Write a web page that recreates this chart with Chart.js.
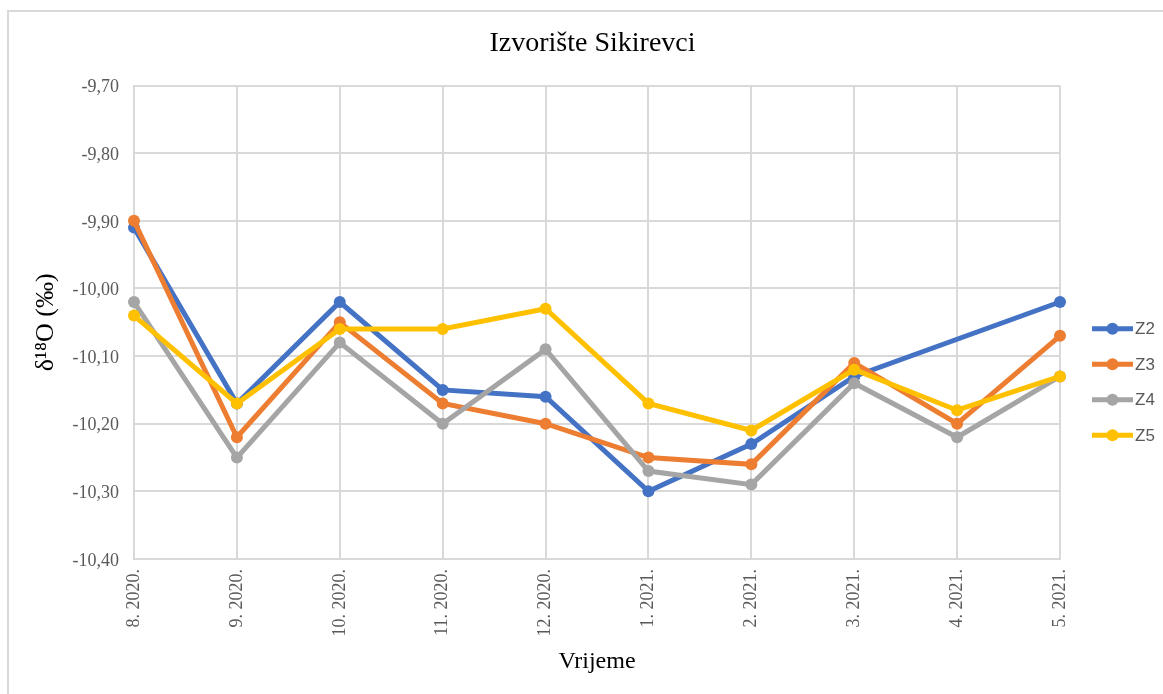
<!DOCTYPE html>
<html>
<head>
<meta charset="utf-8">
<script src="https://cdn.jsdelivr.net/npm/chart.js@4.4.1/dist/chart.umd.min.js"></script>
<style>
  html, body { margin: 0; padding: 0; background: #fff; }
  #wrap { position: relative; width: 1163px; height: 694px; overflow: hidden; }
  #frame { position: absolute; left: 7px; top: 10px; right: -10px; bottom: -10px;
           border-top: 2px solid #d9d9d9; border-left: 2px solid #d9d9d9; pointer-events: none; }
  canvas { position: absolute; left: 0; top: 0; }
</style>
</head>
<body>
<div id="wrap">
  <canvas id="c" width="1163" height="694"></canvas>
  <div id="frame"></div>
</div>
<script>
const titleText = 'Izvorište Sikirevci';
const xTitle = 'Vrijeme';
const yTitle = 'δ¹⁸O (‰)';
const categories = ['8. 2020.', '9. 2020.', '10. 2020.', '11. 2020.', '12. 2020.', '1. 2021.', '2. 2021.', '3. 2021.', '4. 2021.', '5. 2021.'];
const seriesNames = ['Z2', 'Z3', 'Z4', 'Z5'];
const z2 = [-9.91, -10.17, -10.02, -10.15, -10.16, -10.30, -10.23, -10.13, null, -10.02];
const z3 = [-9.90, -10.22, -10.05, -10.17, -10.20, -10.25, -10.26, -10.11, -10.20, -10.07];
const z4 = [-10.02, -10.25, -10.08, -10.20, -10.09, -10.27, -10.29, -10.14, -10.22, -10.13];
const z5 = [-10.04, -10.17, -10.06, -10.06, -10.03, -10.17, -10.21, -10.12, -10.18, -10.13];
const yMin = -10.4, yMax = -9.7, yStep = 0.1;
const colors = ['#4472C4', '#ED7D31', '#A5A5A5', '#FFC000'];

const serif = '"Liberation Serif", "Times New Roman", "DejaVu Serif", serif';
const gridColor = '#d9d9d9';

const allSeries = [z2, z3, z4, z5];
const datasets = allSeries.map((d, i) => ({
  label: seriesNames[i],
  data: d,
  borderColor: colors[i],
  backgroundColor: colors[i],
  borderWidth: 5,
  pointRadius: 6,
  pointBorderWidth: 0,
  pointBackgroundColor: colors[i],
  tension: 0,
  spanGaps: true,
  order: allSeries.length - i
}));

const sideLegend = {
  id: 'sideLegend',
  afterDraw(chart) {
    const ctx = chart.ctx;
    const a = chart.chartArea;
    const x0 = a.right + 32, x1 = a.right + 73, xc = (x0 + x1) / 2, xt = a.right + 75;
    const center = 382, gap = 35.5;
    const n = chart.data.datasets.length;
    ctx.save();
    chart.data.datasets.forEach((ds, i) => {
      const y = center + (i - (n - 1) / 2) * gap;
      ctx.strokeStyle = ds.borderColor;
      ctx.lineWidth = 5;
      ctx.lineCap = 'butt';
      ctx.beginPath(); ctx.moveTo(x0, y); ctx.lineTo(x1, y); ctx.stroke();
      ctx.fillStyle = ds.borderColor;
      ctx.beginPath(); ctx.arc(xc, y, 6, 0, Math.PI * 2); ctx.fill();
      ctx.fillStyle = '#595959';
      ctx.font = '17px "Liberation Sans", Arial, sans-serif';
      ctx.textAlign = 'left';
      ctx.textBaseline = 'middle';
      ctx.fillText(ds.label, xt, y + 1);
    });
    ctx.restore();
  }
};

new Chart(document.getElementById('c'), {
  type: 'line',
  data: { labels: categories, datasets },
  options: {
    responsive: false,
    animation: false,
    devicePixelRatio: 1,
    layout: { padding: { left: 22, right: 0, top: 10, bottom: 10 } },
    plugins: {
      legend: { display: false },
      tooltip: { enabled: false },
      title: {
        display: true,
        text: titleText,
        color: '#000',
        font: { family: serif, size: 28, weight: 'normal' },
        padding: { top: 17, bottom: 25 }
      }
    },
    scales: {
      x: {
        type: 'category',
        offset: false,
        grid: { color: gridColor, lineWidth: 2, drawTicks: false, offset: false },
        border: { color: gridColor, width: 2 },
        ticks: {
          color: '#595959',
          font: { family: serif, size: 18 },
          minRotation: 90, maxRotation: 90,
          autoSkip: false,
          padding: 10
        },
        title: {
          display: true, text: xTitle, color: '#000',
          font: { family: serif, size: 24, weight: 'normal' },
          padding: { top: 4, bottom: 8 }
        },
        afterFit(s) { s.height = 125; }
      },
      y: {
        min: yMin, max: yMax,
        grid: { color: gridColor, lineWidth: 2, drawTicks: false },
        border: { color: gridColor, width: 2 },
        ticks: {
          stepSize: yStep,
          color: '#595959',
          font: { family: serif, size: 18 },
          padding: 15,
          labelOffset: 2,
          callback: v => Number(v).toFixed(2).replace('.', ',')
        },
        title: {
          display: true, text: yTitle, color: '#000',
          font: { family: serif, size: 26, weight: 'normal' },
          padding: { top: 9, bottom: 0 }
        },
        afterFit(s) { s.width = 112; }
      },
      legendSpace: {
        type: 'linear',
        position: 'right',
        display: true,
        grid: { display: false, drawTicks: false },
        border: { display: false },
        ticks: { display: false },
        afterFit(s) { s.width = 103; }
      }
    }
  },
  plugins: [sideLegend]
});
</script>
</body>
</html>
